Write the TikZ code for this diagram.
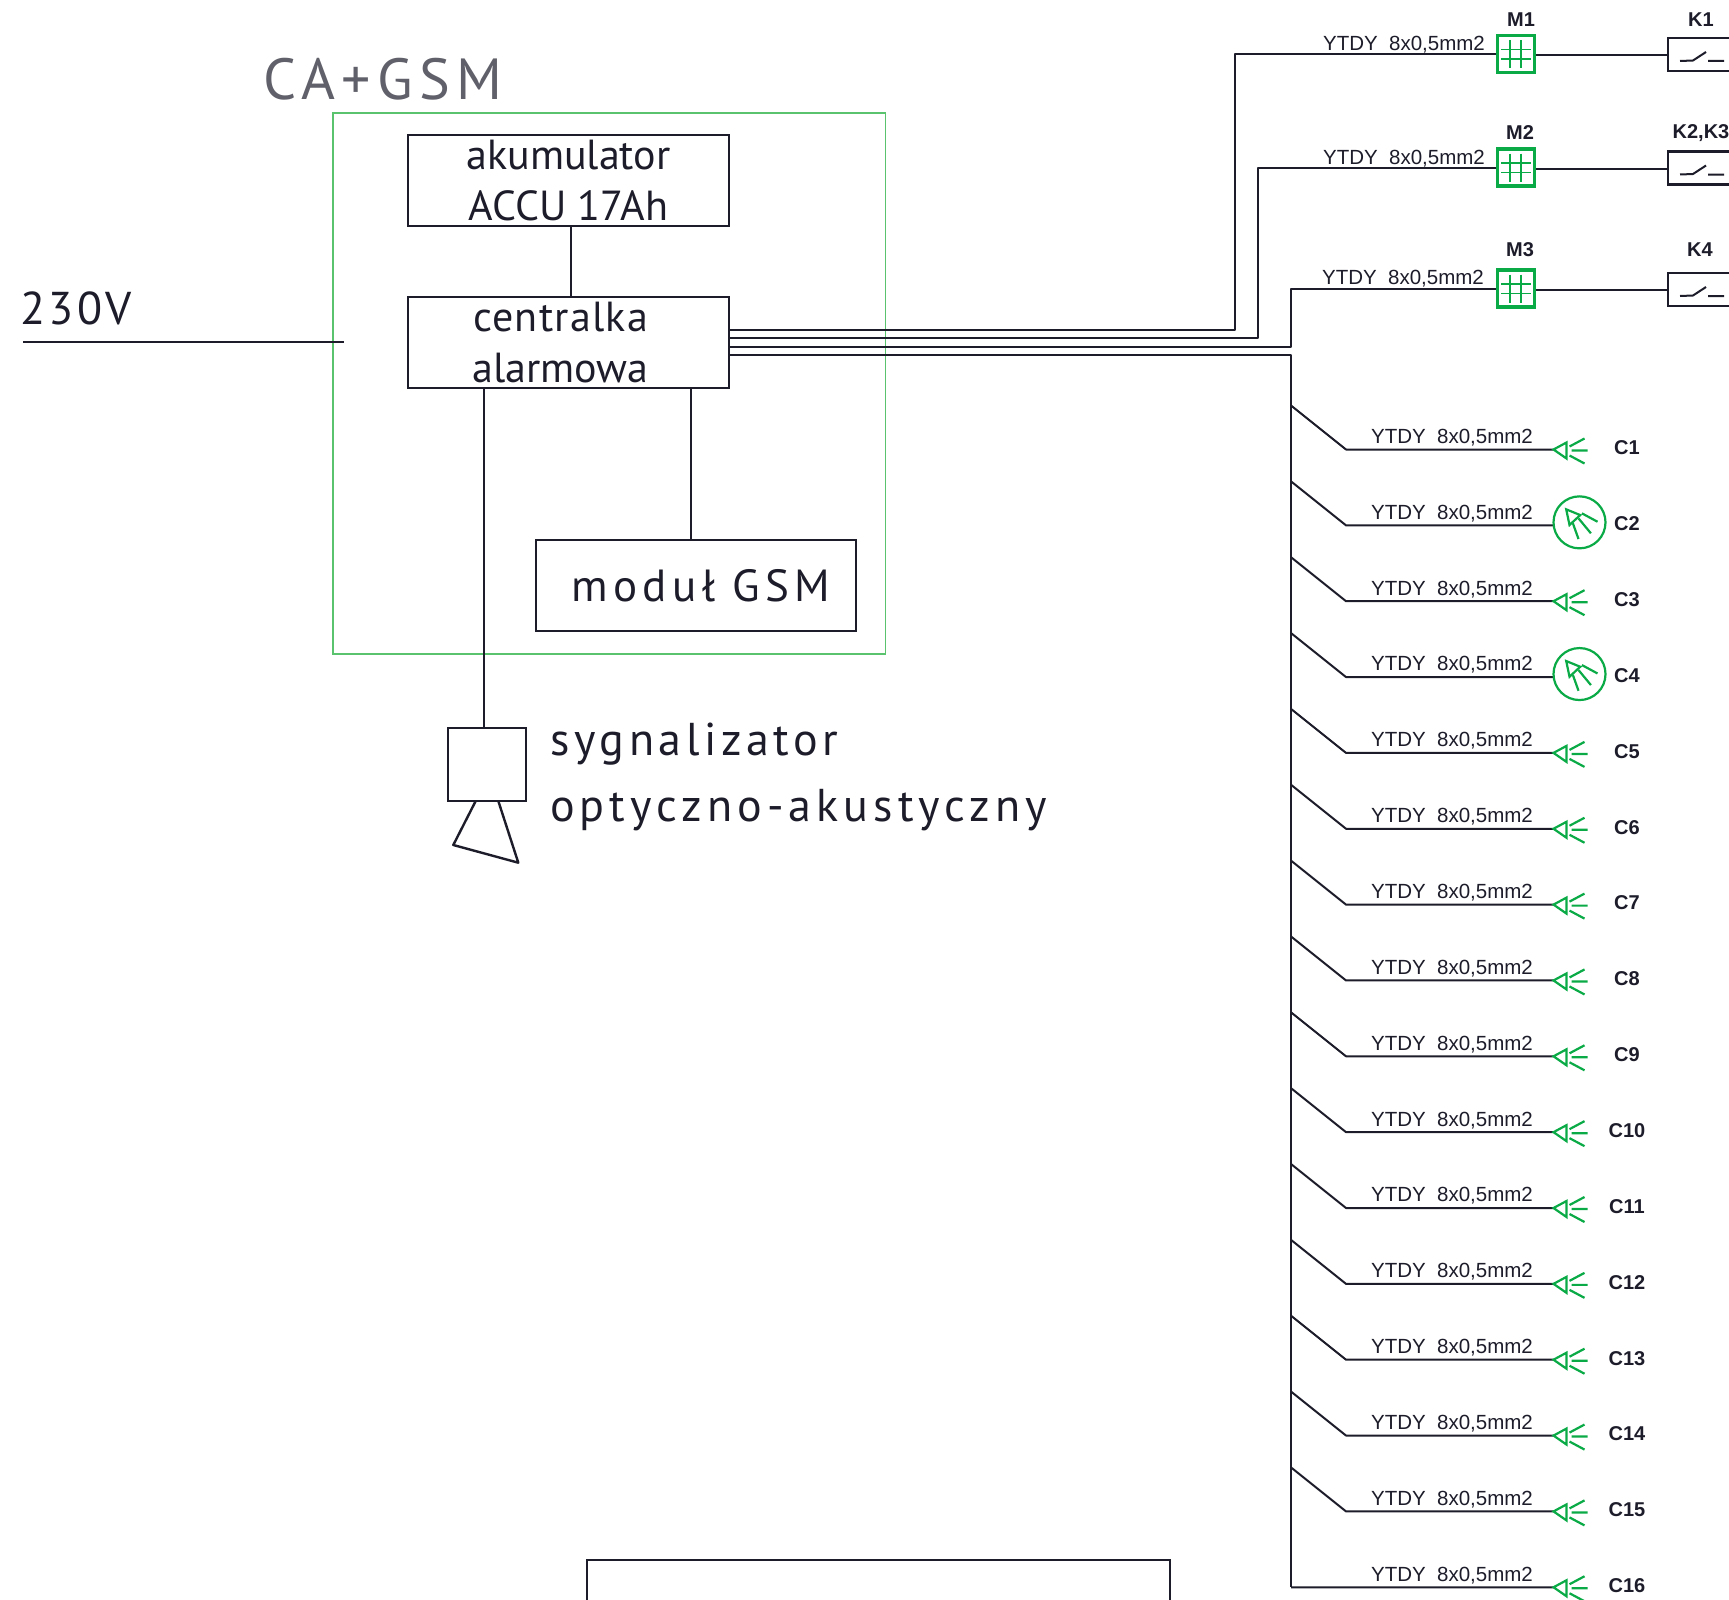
\documentclass[tikz,border=0pt]{standalone}
\usepackage{fontspec}
\setmainfont{Liberation Sans}
\newfontfamily\isofont{PT Sans}
\definecolor{zielen}{RGB}{10,170,70}
\definecolor{ramka}{RGB}{90,195,110}
\definecolor{linia}{RGB}{28,28,42}
\tikzset{
    blok/.style={draw=linia,line width=2.4pt,rectangle,inner sep=0pt,align=center,text=linia,
        font=\isofont\fontsize{42}{51}\selectfont},
    napis/.style={inner sep=0pt,text=linia,font=\isofont\fontsize{46}{51}\selectfont\addfontfeature{LetterSpace=10}},
    przewod/.style={draw=linia,line width=2pt,line join=round},
    opis/.style={inner sep=0pt,text=linia,font=\fontsize{20.5}{24}\selectfont},
    nazwa/.style={opis,font=\fontsize{20}{24}\selectfont\bfseries},
    modul/.style={draw=zielen,line width=3.5pt,rectangle,minimum size=37pt,inner sep=0pt},
    pics/czujka/.style={code={
        \draw[zielen,line width=2.2pt] (0,0) -- (13,-7) -- (13,9) -- cycle;
        \draw[zielen,line width=2.2pt] (16,-3) -- (31,-11) (18,1) -- (34,1) (16,6) -- (31,14);
    }},
    pics/czujkaokr/.style={code={
        \draw[zielen,line width=2.2pt] (0,0) circle (26);
        \draw[zielen,line width=2.2pt] (-13.3,-13) -- (0.7,-7.3) -- (-10,2.7) -- cycle;
        \draw[zielen,line width=2.2pt] (2.4,-9) -- (18,-0.6) (-1,-4) -- (11.4,11) (-6.6,1) -- (-1,16.7);
    }},
    pics/siatka/.style={code={
        \draw[zielen,line width=1.3pt] (-6,-14) -- (-6,14) (5,-14) -- (5,14) (-15,-4.5) -- (15,-4.5) (-15,5) -- (15,5);
    }},
    pics/styk/.style={code={
        \draw[linia,line width=2pt] (12,6) -- (25,5.5) -- (38,-3) (40,6) -- (56,6);
    }},
}
\begin{document}
\begin{tikzpicture}[x=1pt,y=-1pt]
    \useasboundingbox (0,0) rectangle (1729,1600);
    % szafka CA+GSM
    \node[napis,font=\isofont\fontsize{58}{60}\selectfont\addfontfeature{LetterSpace=11},text=linia!70] (tytul) at (383,79) {CA+GSM};
    \draw[ramka,line width=1.6pt] (333,113) rectangle (885.5,654);
    \node[blok,minimum width=321pt,minimum height=91.5pt] (akumulator) at (568.5,180.5) {akumulator\\ACCU 17Ah};
    \node[blok,minimum width=321pt,minimum height=91pt] (centralka) at (568.5,342.5) {{\addfontfeature{LetterSpace=3}centralka}\hspace*{16pt}\\alarmowa\hspace*{16pt}};
    \node[blok,minimum width=320pt,minimum height=91pt,font=\isofont\fontsize{45}{51}\selectfont\addfontfeature{LetterSpace=12}] (gsm) at (696,585.5) {\hspace*{10pt}moduł GSM};
    \draw[przewod] (akumulator.south -| 571,0) -- (centralka.north -| 571,0);
    \draw[przewod] (centralka.south -| 691,0) -- (gsm.north -| 691,0);
    % zasilanie
    \node[napis,font=\isofont\fontsize{46}{51}\selectfont\addfontfeature{LetterSpace=7}] (zasilanie) at (76,308) {230V};
    \coordinate (zas1) at (23,342);
    \coordinate (zas2) at (344,342);
    \draw[przewod,line width=2.4pt] (zas1) -- (zas2);
    % sygnalizator
    \node[blok,minimum width=78pt,minimum height=73pt] (sygnal) at (487,764.5) {};
    \draw[przewod] (centralka.south -| 484,0) -- (sygnal.north -| 484,0);
    \draw[linia,line width=2.4pt,line join=round] (475.7,801) -- (453.3,845) -- (518.3,862.7) -- (498.3,801);
    \node[napis,anchor=west] (sygn1) at (550,744.5) {sygnalizator};
    \node[napis,anchor=west,font=\isofont\fontsize{46}{51}\selectfont\addfontfeature{LetterSpace=11}] (sygn2) at (550,810) {optyczno-akustyczny};
    % manipulatory i kontaktrony
    \node[modul] (M1) at (1516,54) {};
    \node[modul] (M2) at (1516,167.5) {};
    \node[modul] (M3) at (1516,288.5) {};
    \pic at (M1) {siatka};
    \pic at (M2) {siatka};
    \pic at (M3) {siatka};
    \node[opis] (opisM1) at (1404,45) {YTDY\ \ 8x0,5mm2};
    \node[opis] (opisM2) at (1404,159) {YTDY\ \ 8x0,5mm2};
    \node[opis] (opisM3) at (1403,279) {YTDY\ \ 8x0,5mm2};
    \node[nazwa] (nazwaM1) at (1521,20) {M1};
    \node[nazwa] (nazwaM2) at (1520,133) {M2};
    \node[nazwa] (nazwaM3) at (1520,250) {M3};
    \node[nazwa] (nazwaK1) at (1701,20) {K1};
    \node[nazwa] (nazwaK2) at (1701,133) {K2,K3};
    \node[nazwa] (nazwaK4) at (1700,250) {K4};
    \foreach \nr/\yk in {1/55,2/168.5,3/290}{
        \coordinate (K\nr) at (1668,\yk);
        \draw[przewod] (M\nr.east |- K\nr) -- (K\nr);
        \draw[linia,line width=2.4pt] (1729,\yk-17) -- (1668,\yk-17) -- (1668,\yk+16) -- (1729,\yk+16);
        \pic at (K\nr) {styk};
    }
    % przewody z centralki
    \coordinate (w1) at (centralka.east |- 0,330);
    \coordinate (w2) at (centralka.east |- 0,338);
    \coordinate (w3) at (centralka.east |- 0,346.5);
    \coordinate (w4) at (centralka.east |- 0,354.5);
    \draw[przewod] (w1) -- (1235,330) -- (1235,54) -- (M1.west);
    \draw[przewod] (w2) -- (1258,338) -- (1258,167.5) -- (M2.west);
    \draw[przewod] (w3) -- (1291,346.5) -- (1291,288.5) -- (M3.west);
    \coordinate (szyna) at (1291,1587.3);
    \draw[przewod] (w4) -- (1291,354.5) -- (szyna);
    % czujki
    \foreach \nr in {1,...,16}{
        \pgfmathsetmacro{\yc}{449.5+(\nr-1)*75.85}
        \coordinate (cz\nr) at (1553.5,\yc);
        \ifnum\nr=16
            \coordinate (z\nr) at (szyna);
            \draw[przewod] (z\nr) -- (cz\nr);
        \else
            \coordinate (s\nr) at (1291,\yc-44);
            \coordinate (z\nr) at (1346,\yc);
            \draw[przewod] (s\nr) -- (z\nr) -- (cz\nr);
        \fi
        \node[opis] (opis\nr) at (1452,\yc-12) {YTDY\ \ 8x0,5mm2};
        \node[nazwa] (C\nr) at (1627,\yc-1.5) {C\nr};
    }
    \foreach \nr in {1,3,5,6,7,8,9,10,11,12,13,14,15,16}{
        \pic at (cz\nr) {czujka};
    }
    \pic at ([xshift=26pt,yshift=3pt]cz2) {czujkaokr};
    \pic at ([xshift=26pt,yshift=3pt]cz4) {czujkaokr};
    % dolna ramka
    \draw[linia,line width=2pt] (587,1600) -- (587,1560) -- (1170,1560) -- (1170,1600);
\end{tikzpicture}
\end{document}
